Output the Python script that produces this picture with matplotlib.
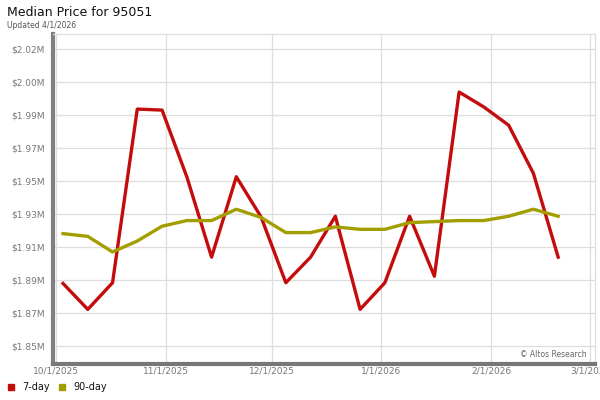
import pandas as pd
import matplotlib
matplotlib.use("Agg")
import matplotlib.pyplot as plt
import matplotlib.dates as mdates

# weekly points, values in $M
dates = pd.date_range("2025-10-03", periods=21, freq="7D")
day7 = [1.8874, 1.8723, 1.8878, 1.9889, 1.9883, 1.9495, 1.9027, 1.9495, 1.9261, 1.8878, 1.9027,
        1.9265, 1.8723, 1.8878, 1.9265, 1.8916, 1.9988, 1.9901, 1.9795, 1.9515, 1.9027]
day90 = [1.9164, 1.9148, 1.9057, 1.9121, 1.9207, 1.9240, 1.9240, 1.9306, 1.9258, 1.9170, 1.9170,
         1.9203, 1.9189, 1.9189, 1.9228, 1.9234, 1.9240, 1.9240, 1.9265, 1.9306, 1.9265]

ytick_vals = [1.851 + i * 0.0192 for i in range(10)]
ytick_labels = ["$1.85M", "$1.87M", "$1.89M", "$1.91M", "$1.93M",
                "$1.95M", "$1.97M", "$1.99M", "$2.00M", "$2.02M"]
xtick_dates = pd.to_datetime(["2025-10-01", "2025-11-01", "2025-12-01",
                              "2026-01-01", "2026-02-01", "2026-03-01"])
xtick_labels = ["10/1/2025", "11/1/2025", "12/1/2025", "1/1/2026", "2/1/2026", "3/1/2026"]

red = "#c40c0c"
olive = "#a39e00"

fig = plt.figure(figsize=(6, 4), dpi=100)
ax = fig.add_axes([53 / 600, 36 / 400, 542 / 600, 330 / 400])

ax.plot(dates, day7, color=red, lw=2.4, zorder=3)
ax.plot(dates, day90, color=olive, lw=2.4, zorder=3)

ax.set_xlim(pd.Timestamp("2025-09-30 04:00"), pd.Timestamp("2026-03-02 10:00"))
ax.set_ylim(1.8405, 2.0326)

ax.set_yticks(ytick_vals)
ax.set_yticklabels(ytick_labels)
ax.set_xticks(xtick_dates)
ax.set_xticklabels(xtick_labels)
ax.tick_params(length=0, labelsize=6.5, colors="#777777")
ax.tick_params(axis="y", pad=6)
ax.tick_params(axis="x", pad=2)

ax.grid(True, color="#dddddd", lw=0.9, zorder=0)
ax.set_axisbelow(True)

ax.spines["left"].set_color("#808080")
ax.spines["left"].set_linewidth(3)
ax.spines["bottom"].set_color("#777777")
ax.spines["bottom"].set_linewidth(3)
ax.spines["top"].set_color("#dddddd")
ax.spines["top"].set_linewidth(0.9)
ax.spines["right"].set_color("#dddddd")
ax.spines["right"].set_linewidth(0.9)

ax.text(0.985, 0.03, "© Altos Research", transform=ax.transAxes, ha="right", va="center",
        fontsize=5.5, color="#666666")

fig.text(7 / 600, 1 - 13 / 400, "Median Price for 95051", fontsize=9, va="center", color="#111111")
fig.text(7 / 600, 1 - 25 / 400, "Updated 4/1/2026", fontsize=5.5, va="center", color="#555555")

# legend
fig.patches.append(plt.Rectangle((8 / 600, 1 - 390 / 400), 6 / 600, 6 / 400,
                                 transform=fig.transFigure, color=red))
fig.text(22 / 600, 1 - 387 / 400, "7-day", fontsize=7, va="center", color="#111111")
fig.patches.append(plt.Rectangle((59 / 600, 1 - 390 / 400), 6 / 600, 6 / 400,
                                 transform=fig.transFigure, color=olive))
fig.text(73 / 600, 1 - 387 / 400, "90-day", fontsize=7, va="center", color="#111111")

fig.savefig("out.png", dpi=100)
